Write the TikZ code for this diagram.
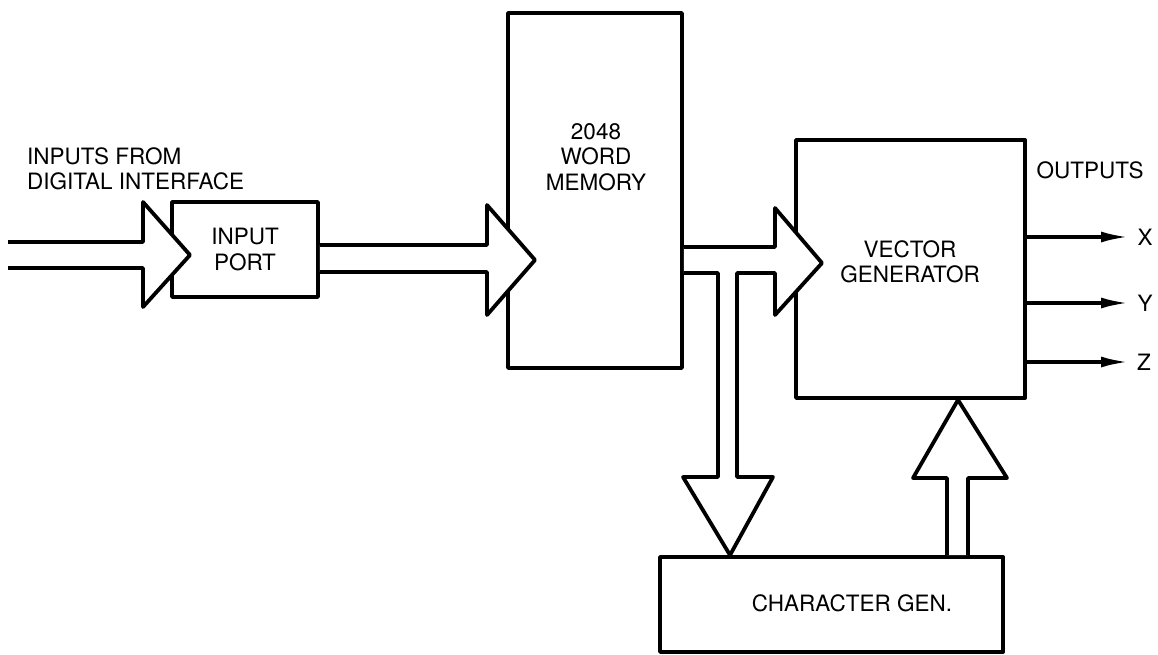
\documentclass[tikz,border=0pt]{standalone}
\usepackage{fontspec}
\setmainfont{TeX Gyre Heros}
\usetikzlibrary{arrows.meta}
\begin{document}
\begin{tikzpicture}[x=1pt,y=-1pt,
  box/.style={draw,line width=3.8pt,line join=round,fill=white,minimum width=#1,inner sep=0},
  bus/.style={draw,line width=3.8pt,line join=round,fill=white},
  lbl/.style={font=\fontsize{22.5}{25.5}\selectfont,align=center,inner sep=0},
  outarr/.style={line width=3.2pt,-{Latex[length=27pt,width=11pt]}}]
\useasboundingbox (0,0) rectangle (1158,654);
% boxes
\node[box=146pt,minimum height=95pt] (inport) at (245,249.5) {};
\node[box=174pt,minimum height=355pt] (mem) at (595,190.5) {};
\node[box=229pt,minimum height=258pt] (vec) at (910.5,269) {};
\node[box=343pt,minimum height=95pt] (chr) at (831.5,604.5) {};
% bus arrows
\draw[bus] (8,242) -- (143,242) -- (143,202) -- (190,255) -- (143,307) -- (143,268) -- (8,268);
\draw[bus] (inport.east |- 0,245) -- (487,245) -- (487,205) -- (535,260) -- (487,315) -- (487,272) -- (inport.east |- 0,272);
\draw[bus] (mem.east |- 0,247) -- (775,247) -- (775,208) -- (822,263) -- (775,315) -- (775,273)
  -- (737,273) -- (737,477) -- (773,477) -- (chr.north -| 730,0) -- (683,477) -- (718,477) -- (718,273) -- (mem.east |- 0,273);
\draw[bus] (chr.north -| 947,0) -- (947,478) -- (913,478) -- (vec.south -| 958,0) -- (1007,478) -- (968,478) -- (chr.north -| 968,0);
% texts
\node[lbl] (inporttxt) at (inport.center) {INPUT\\PORT};
\node[lbl] (memtxt) at (596,157) {2048\\WORD\\MEMORY};
\node[lbl] (vectxt) at (910,262) {VECTOR\\GENERATOR};
\node[lbl] (chrtxt) at (852,603) {CHARACTER GEN.};
\node[lbl,anchor=west,align=left] (intxt) at (27,169) {INPUTS FROM\\DIGITAL INTERFACE};
\node[lbl] (outtxt) at (1090,170) {OUTPUTS};
% outputs
\coordinate (ox) at (1128,237);
\coordinate (oy) at (1128,303);
\coordinate (oz) at (1128,362);
\draw[outarr] (vec.east |- ox) -- (ox);
\draw[outarr] (vec.east |- oy) -- (oy);
\draw[outarr] (vec.east |- oz) -- (oz);
\node[lbl] (xl) at (1145,237) {X};
\node[lbl] (yl) at (1145,303) {Y};
\node[lbl] (zl) at (1144,362) {Z};
\end{tikzpicture}
\end{document}
